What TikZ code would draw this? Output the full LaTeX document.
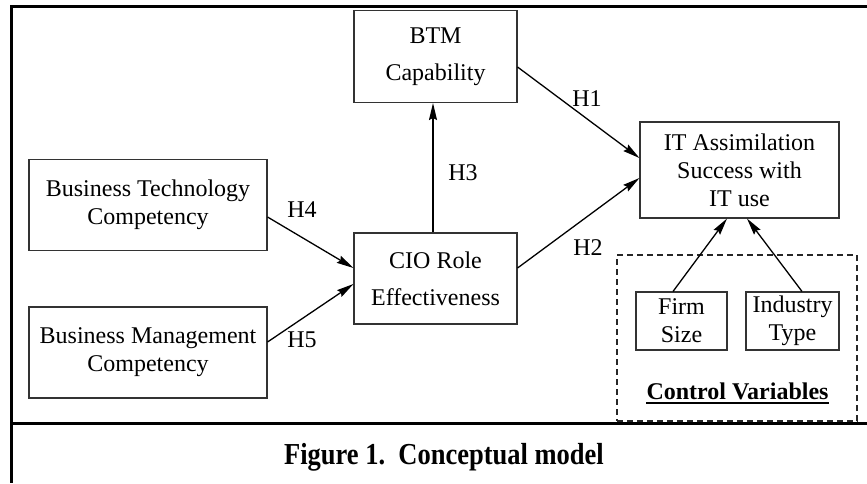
\documentclass[tikz,border=0pt]{standalone}
\usepackage{fontspec}
\setmainfont{Liberation Serif}
\usepackage{graphicx}
\usetikzlibrary{arrows.meta}
\begin{document}
\begin{tikzpicture}[x=1pt,y=1pt,
  box/.style={draw=black!80, line width=1.1pt, rectangle, align=center, inner sep=0pt, font=\fontsize{24}{28}\selectfont},
  wide/.style={font=\fontsize{24}{37}\selectfont},
  arr/.style={line width=1.3pt, -{Stealth[length=17pt,width=8pt,inset=2pt]}},
  lbl/.style={font=\fontsize{24}{28}\selectfont, inner sep=0pt},
  frameline/.style={line width=3pt}]
\useasboundingbox (0,0) rectangle (867,483);
% frame
\coordinate (tl) at (11,476);
\coordinate (tr) at (867,476);
\coordinate (bl) at (11,0);
\coordinate (sl) at (11,60);
\coordinate (sr) at (867,60);
\draw[frameline] (tr) -- (tl) -- (bl);
\draw[frameline] (sl) -- (sr);
% boxes
\node[box, wide, minimum width=163pt, minimum height=92pt] (btm) at (435.5,426.5) {BTM\\Capability};
\node[box, minimum width=199pt, minimum height=96pt] (it) at (739.5,313) {IT Assimilation\\Success with\\IT use};
\node[box, wide, minimum width=163pt, minimum height=91pt] (cio) at (435.5,204.5) {CIO Role\\Effectiveness};
\node[box, minimum width=238pt, minimum height=91pt] (bt) at (148,278) {Business Technology\\Competency};
\node[box, minimum width=238pt, minimum height=91pt] (bm) at (148,130.5) {Business Management\\Competency};
\node[draw=black!85, line width=1.4pt, dash pattern=on 6pt off 4pt, minimum width=240pt, minimum height=166pt, inner sep=0pt] (ctrl) at (737,145) {};
\node[box, minimum width=91pt, minimum height=58pt] (firm) at (681.5,162) {Firm\\Size};
\node[box, minimum width=93pt, minimum height=58pt] (ind) at (792.5,162) {Industry\\Type};
\node[anchor=base, inner sep=0pt, font=\fontsize{24}{28}\selectfont\bfseries] (cv) at (737.5,84) {Control Variables};
\draw[line width=1.8pt] ([yshift=-4pt]cv.base west) -- ([yshift=-4pt]cv.base east);
% arrows
\draw[arr] ([yshift=-10.5pt]btm.east) -- ([yshift=12pt]it.west);
\draw[arr] ([yshift=10.5pt]cio.east) -- ([yshift=-8pt]it.west);
\draw[arr] ([xshift=-2.5pt]cio.north) -- ([xshift=-2.5pt]btm.south);
\draw[arr] ([yshift=-12pt]bt.east) -- ([yshift=10.5pt]cio.west);
\draw[arr] ([yshift=10.5pt]bm.east) -- ([yshift=-5.5pt]cio.west);
\draw[arr] ([xshift=-8.5pt]firm.north) -- ([xshift=-12.5pt]it.south);
\draw[arr] ([xshift=9.5pt]ind.north) -- ([xshift=7.5pt]it.south);
% labels
\node[lbl] (h1) at (587,384) {H1};
\node[lbl] (h2) at (588,235) {H2};
\node[lbl] (h3) at (463,310) {H3};
\node[lbl] (h4) at (302,273) {H4};
\node[lbl] (h5) at (302,143) {H5};
% caption
\node[font=\fontsize{26.5}{30}\selectfont\bfseries, inner sep=0pt] (cap) at (444,26) {\scalebox{1}[1.15]{Figure 1.\ \ Conceptual model}};
\end{tikzpicture}
\end{document}
